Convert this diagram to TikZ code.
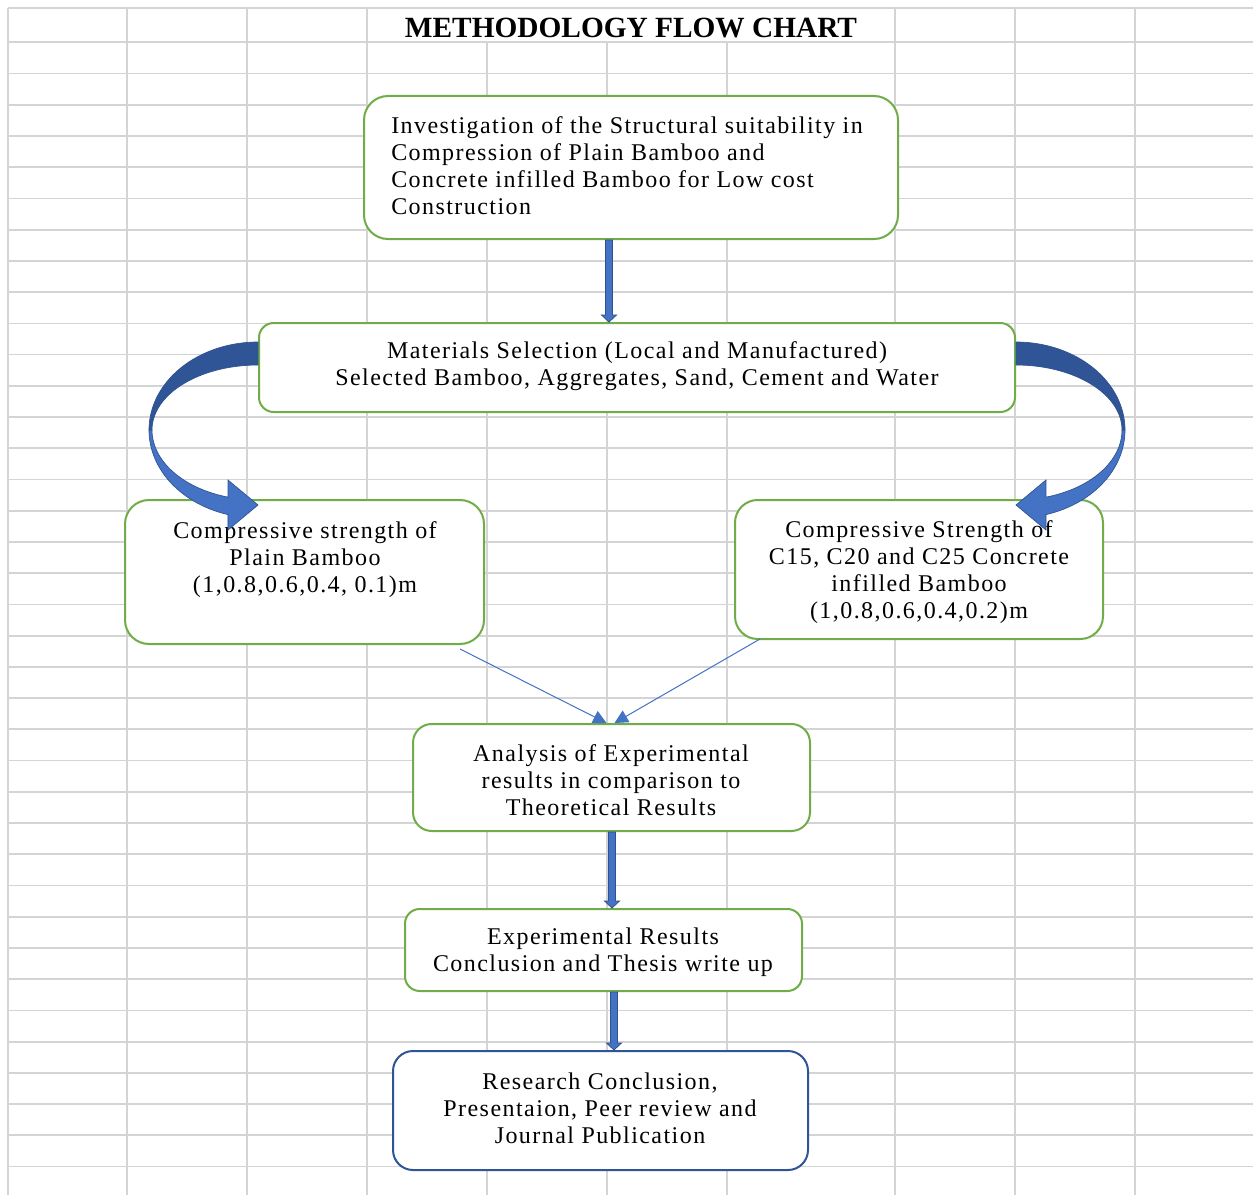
\documentclass[tikz,border=0pt]{standalone}
\usepackage{fontspec}
\setmainfont{Liberation Serif}
\newfontfamily\boxfont[LetterSpace=6]{Liberation Serif}
\usetikzlibrary{arrows.meta,calc}
\definecolor{gridgray}{RGB}{212,212,212}
\definecolor{boxgreen}{RGB}{112,173,71}
\definecolor{lblue}{RGB}{68,114,196}
\definecolor{dblue}{RGB}{47,85,151}
\definecolor{bblue}{RGB}{47,82,143}
\newcommand\blkarrow[2]{%
  \filldraw[fill=lblue, draw=bblue, line width=0.6pt]
  ($(#1)+(-3.5,0)$) -- ($(#2)+(-3.5,-7)$) -- ($(#2)+(-7.5,-7)$) -- (#2) --
  ($(#2)+(7.5,-7)$) -- ($(#2)+(3.5,-7)$) -- ($(#1)+(3.5,0)$) -- cycle;}
\newcommand\curvarrow[2]{%
  \begin{scope}[shift={(#1)}, xscale=#2]
    \filldraw[fill=dblue, draw=bblue, line width=0.5pt]
      plot[domain=90:180, samples=40] ({109*cos(\x)},{-88*sin(\x)})
      -- plot[domain=180:90, samples=40] ({106*cos(\x)},{-65*sin(\x)}) -- cycle;
    \filldraw[fill=lblue, draw=bblue, line width=0.5pt]
      plot[domain=180:254, samples=40] ({109*cos(\x)},{-88*sin(\x)})
      -- (-30,100) -- (0,75) -- (-30,50)
      -- plot[domain=253.6:180, samples=40] ({106*cos(\x)},{-70*sin(\x)}) -- cycle;
  \end{scope}}
\tikzset{
  gridline/.style={draw=gridgray, line width=1.3pt},
  gbox/.style={draw=boxgreen, line width=1.5pt, fill=white, inner sep=0pt},
  bbox/.style={draw=dblue, line width=1.5pt, fill=white, inner sep=0pt},
  btext/.style={font=\boxfont\fontsize{18}{20.25}\selectfont, inner sep=0pt, align=center},
  thinarr/.style={draw=lblue, line width=0.75pt, -{Triangle[length=10pt,width=10pt]}},
}
\begin{document}
\begin{tikzpicture}[x=0.75pt, y=-0.75pt]
\fill[white] (0,0) rectangle (1253,1195);
\useasboundingbox (0,0) rectangle (1253,1195);
% grid
\draw[gridline] (8,8.3) -- (1253,8.3);
\foreach \k in {0,...,36} \draw[gridline] (8,{42.3+31.23*\k}) -- (1253,{42.3+31.23*\k});
\foreach \xx in {8,127,247,367,895,1015,1135} \draw[gridline] (\xx,8.3) -- (\xx,1195);
\foreach \xx in {487,607,727} \draw[gridline] (\xx,42.3) -- (\xx,1195);
% title
\node[font=\bfseries\fontsize{22}{26}\selectfont, inner sep=0pt] (title) at (631,28) {METHODOLOGY FLOW CHART};
% boxes
\node[gbox, rounded corners=18pt, minimum width=534*0.75pt, minimum height=143*0.75pt] (b1) at (631,167.5) {};
\node[gbox, rounded corners=11pt, minimum width=756*0.75pt, minimum height=89*0.75pt] (b2) at (637,367.5) {};
\node[gbox, rounded corners=18pt, minimum width=359*0.75pt, minimum height=144*0.75pt] (b3) at (304.5,572) {};
\node[gbox, rounded corners=17pt, minimum width=368*0.75pt, minimum height=139*0.75pt] (b4) at (919,569.5) {};
\node[gbox, rounded corners=14pt, minimum width=397*0.75pt, minimum height=107*0.75pt] (b5) at (611.5,777.5) {};
\node[gbox, rounded corners=11pt, minimum width=397*0.75pt, minimum height=82*0.75pt] (b6) at (603.5,950) {};
\node[bbox, rounded corners=15pt, minimum width=415*0.75pt, minimum height=119*0.75pt] (b7) at (600.5,1110.5) {};
% texts
\node[btext, align=left, anchor=west] (t1) at (391,165.5) {Investigation of the Structural suitability in\\Compression of Plain Bamboo and\\Concrete infilled Bamboo for Low cost\\Construction};
\node[btext] (t2) at (637,366.5) {Materials Selection (Local and Manufactured)\\Selected Bamboo, Aggregates, Sand, Cement and Water};
\node[btext] (t3) at (305,559.5) {Compressive strength of\\Plain Bamboo\\(1,0.8,0.6,0.4, 0.1)m};
\node[btext] (t4) at (919,572.5) {Compressive Strength of\\C15, C20 and C25 Concrete\\infilled Bamboo\\(1,0.8,0.6,0.4,0.2)m};
\node[btext] (t5) at (611,780) {Analysis of Experimental\\results in comparison to\\Theoretical Results};
\node[btext] (t6) at (603,952.5) {Experimental Results\\Conclusion and Thesis write up};
\node[btext] (t7) at (600,1108.5) {Research Conclusion,\\Presentaion, Peer review and\\Journal Publication};
% curved arrows
\coordinate (cl) at ($(b2.west)+(0,62.5)$);
\coordinate (cr) at ($(b2.east)+(0,62.5)$);
\curvarrow{cl}{1}
\curvarrow{cr}{-1}
% block arrows
\coordinate (a1s) at (609,0 |- b1.south);
\coordinate (a1e) at (609,0 |- b2.north);
\coordinate (a2s) at (612,0 |- b5.south);
\coordinate (a2e) at (612,0 |- b6.north);
\coordinate (a3s) at (614,0 |- b6.south);
\coordinate (a3e) at (614,0 |- b7.north);
\blkarrow{a1s}{a1e}
\blkarrow{a2s}{a2e}
\blkarrow{a3s}{a3e}
% thin arrows
\coordinate (l1) at ($(b3.south)+(155.5,4)$);
\coordinate (l2) at ($(b4.south)+(-159,-1)$);
\draw[thinarr] (l1) -- ($(b5.north)+(-5,0)$);
\draw[thinarr] (l2) -- ($(b5.north)+(3,0)$);
\end{tikzpicture}
\end{document}
